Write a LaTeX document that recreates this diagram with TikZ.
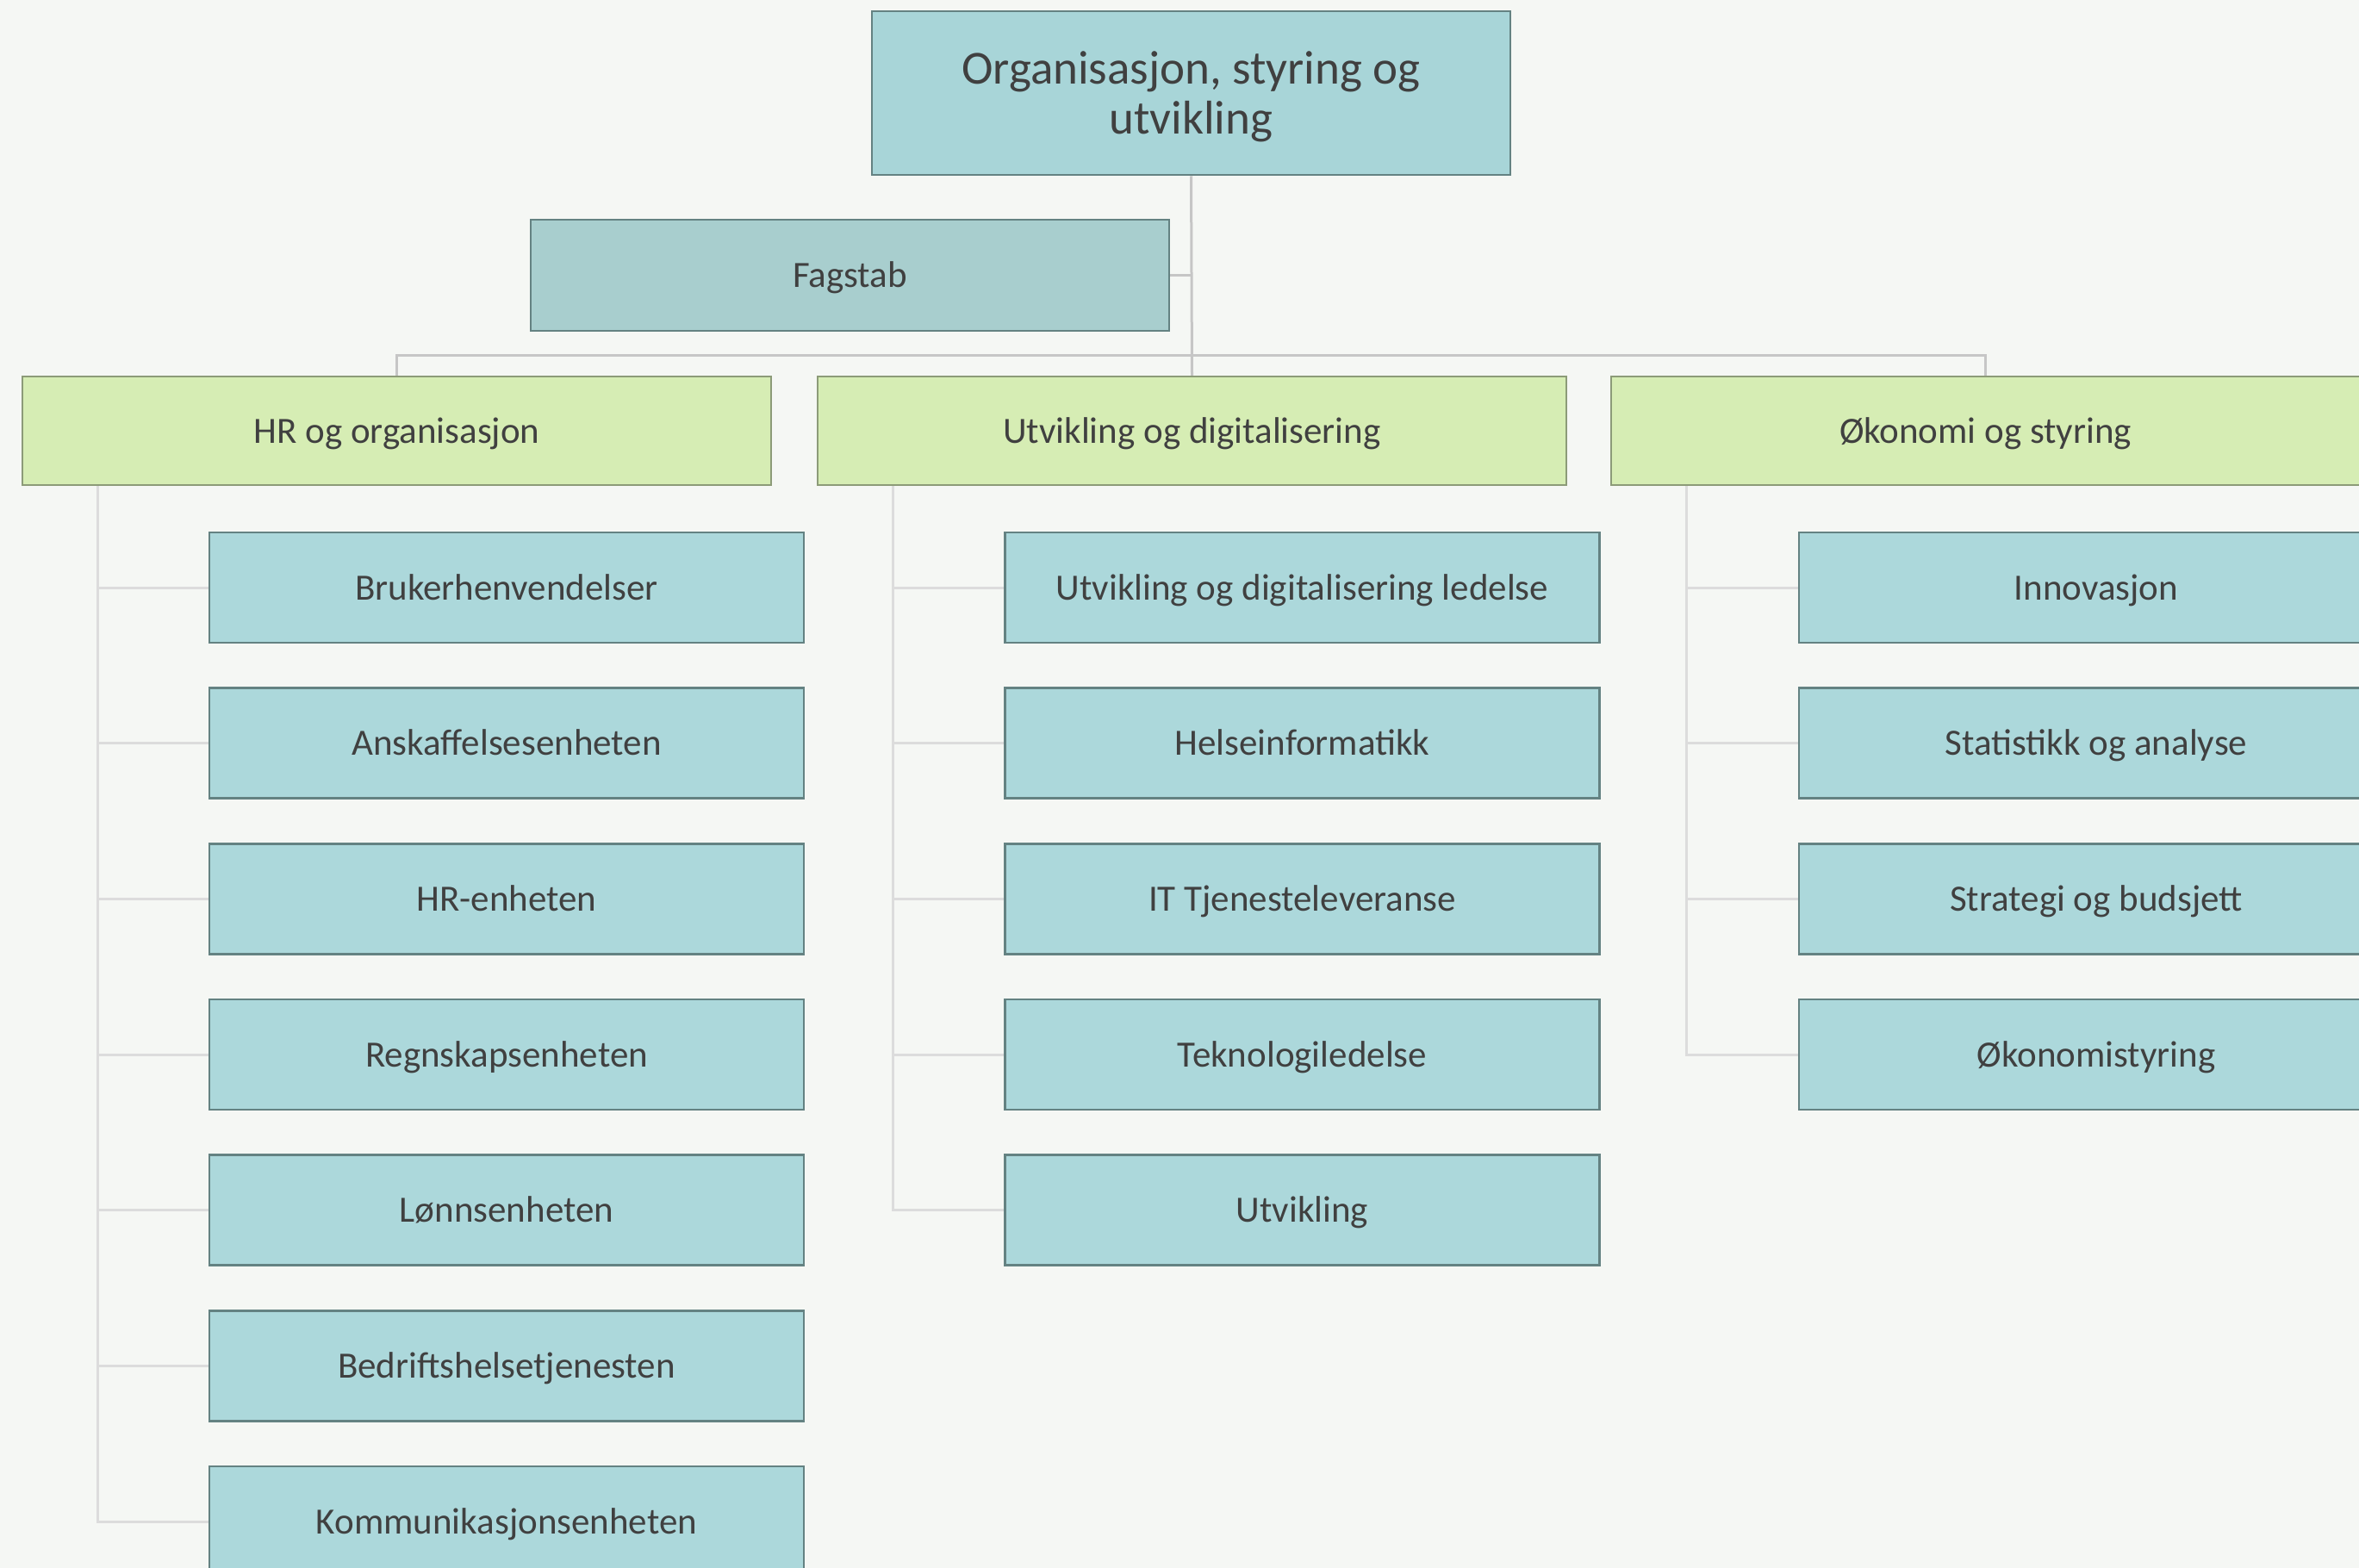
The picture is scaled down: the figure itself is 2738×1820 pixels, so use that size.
\documentclass[tikz,border=0pt]{standalone}
\usepackage{fontspec}
\setmainfont{Carlito}
\usepackage{tikz}
\usetikzlibrary{positioning,calc}
\definecolor{bgcol}{HTML}{F5F7F4}
\definecolor{topcol}{HTML}{A8D5D8}
\definecolor{stabcol}{HTML}{A8CECE}
\definecolor{deptcol}{HTML}{D6EDB4}
\definecolor{unitcol}{HTML}{ACD8DB}
\definecolor{tealline}{HTML}{648282}
\definecolor{greenline}{HTML}{8C9B78}
\definecolor{busline}{HTML}{C6C6C6}
\definecolor{subline}{HTML}{DCDCDC}
\definecolor{txtcol}{HTML}{404040}
\tikzset{
    box/.style={rectangle,draw,line width=2.5bp,inner sep=0pt,align=center,
        text=txtcol,font=\fontsize{43bp}{50bp}\selectfont,text height=28bp,text depth=0bp},
    topbox/.style={box,fill=topcol,draw=tealline,minimum width=741bp,minimum height=190bp,
        font=\fontsize{55bp}{58bp}\selectfont,text height={},text depth=0bp},
    stabbox/.style={box,fill=stabcol,draw=tealline,minimum width=741bp,minimum height=129bp},
    deptbox/.style={box,fill=deptcol,draw=greenline,minimum width=869bp,minimum height=126bp},
    unitbox/.style={box,fill=unitcol,draw=tealline,minimum width=690bp,minimum height=128bp},
    bus/.style={draw=busline,line width=3bp},
    sub/.style={draw=subline,line width=3bp}
}

\begin{document}
\begin{tikzpicture}[x=1bp,y=-1bp]
    \useasboundingbox (0,0) rectangle (2738,1820);
    \clip (0,0) rectangle (2738,1820);
    \fill[bgcol] (0,0) rectangle (2738,1820);

    \node[topbox]  (top)     at (1382.5,108)   {Organisasjon, styring og\\utvikling};
    \node[stabbox] (fagstab) at (986.5,319.5)  {Fagstab};

    \node[deptbox] (hr)  at (460.5,500)  {HR og organisasjon};
    \node[deptbox] (utv) at (1383.5,500) {Utvikling og digitalisering};
    \node[deptbox] (oko) at (2304.5,500) {Økonomi og styring};
    \coordinate (bus) at (1383.5,412);

    % underenheter
    \foreach \name/\txt [count=\k from 0] in {
            hr1/Brukerhenvendelser,
            hr2/Anskaffelsesenheten,
            hr3/HR-enheten,
            hr4/Regnskapsenheten,
            hr5/Lønnsenheten,
            hr6/Bedriftshelsetjenesten,
            hr7/Kommunikasjonsenheten}
        \node[unitbox] (\name) at (588,682+180.67*\k) {\txt};
    \foreach \name/\txt [count=\k from 0] in {
            utv1/Utvikling og digitalisering ledelse,
            utv2/Helseinformatikk,
            utv3/IT Tjenesteleveranse,
            utv4/Teknologiledelse,
            utv5/Utvikling}
        \node[unitbox] (\name) at (1511.5,682+180.67*\k) {\txt};
    \foreach \name/\txt [count=\k from 0] in {
            oko1/Innovasjon,
            oko2/Statistikk og analyse,
            oko3/Strategi og budsjett,
            oko4/Økonomistyring}
        \node[unitbox] (\name) at (2433,682+180.67*\k) {\txt};

    \begin{scope}[on background layer/.try]
    \path[bus] (top.south) -- (utv.north);
    \path[bus] (fagstab.east) -- (fagstab.east -| top.south);
    \path[bus] (hr.north) |- (bus) -| (oko.north);

    \foreach \k in {1,...,7}
        \path[sub] ([xshift=89bp]hr.south west) |- (hr\k.west);
    \foreach \k in {1,...,5}
        \path[sub] ([xshift=89bp]utv.south west) |- (utv\k.west);
    \foreach \k in {1,...,4}
        \path[sub] ([xshift=89bp]oko.south west) |- (oko\k.west);
    \end{scope}
\end{tikzpicture}
\end{document}
